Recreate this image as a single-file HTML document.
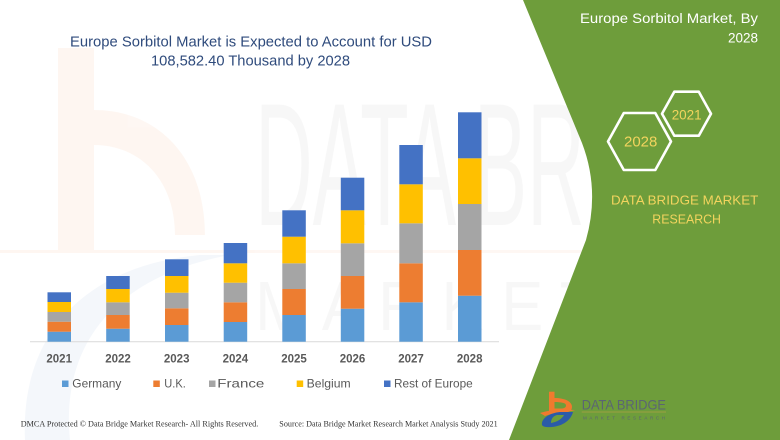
<!DOCTYPE html>
<html>
<head>
<meta charset="utf-8">
<style>
html,body{margin:0;padding:0;background:#fff;}
svg{display:block;}
</style>
</head>
<body>
<svg width="780" height="440" viewBox="0 0 780 440" xmlns="http://www.w3.org/2000/svg">
  <rect x="0" y="0" width="780" height="440" fill="#ffffff"/>
  <!-- faint watermark -->
  <g opacity="0.06">
    <rect x="58" y="48" width="36" height="205" fill="#F07A2E"/>
    <path d="M94,110 C160,110 205,160 205,235 L175,235 C175,180 140,145 94,145 Z" fill="#F07A2E"/>
    <path d="M25,440 C20,330 90,265 200,255 L230,255 C120,275 60,340 70,440 Z" fill="#3C6FB6"/>
    <rect x="0" y="250" width="780" height="3" fill="#F07A2E"/>
  </g>
  <g opacity="0.04" font-family="Liberation Sans, sans-serif" fill="#555">
    <text x="255" y="225" font-size="175" textLength="525" lengthAdjust="spacingAndGlyphs">DATA BRIDGE</text>
    <text x="255" y="330" font-size="70" textLength="525" lengthAdjust="spacingAndGlyphs">M A R K E T R E S</text>
  </g>

  <!-- green panel -->
  <path d="M523,0 L582,143 Q600,190 586,240 L509,440 L780,440 L780,0 Z" fill="#6E9D3B"/>

  <!-- title -->
  <g font-family="Liberation Sans, sans-serif" fill="#2F4B7C" font-size="15">
    <text x="70" y="46.5" textLength="362" lengthAdjust="spacingAndGlyphs">Europe Sorbitol Market is Expected to Account for USD</text>
    <text x="151" y="65.3" textLength="199" lengthAdjust="spacingAndGlyphs">108,582.40 Thousand by 2028</text>
  </g>

  <!-- axis line -->
  <line x1="30" y1="341.7" x2="499" y2="341.7" stroke="#D9D9D9" stroke-width="1"/>

  <!-- bars -->
  <g>
    <rect x="47.5" y="331.7" width="23.5" height="10" fill="#5B9BD5"/>
    <rect x="47.5" y="321.7" width="23.5" height="10" fill="#ED7D31"/>
    <rect x="47.5" y="312" width="23.5" height="9.7" fill="#A5A5A5"/>
    <rect x="47.5" y="302" width="23.5" height="10" fill="#FFC000"/>
    <rect x="47.5" y="292.3" width="23.5" height="9.7" fill="#4472C4"/>
    <rect x="106.2" y="328.7" width="23.5" height="13" fill="#5B9BD5"/>
    <rect x="106.2" y="315" width="23.5" height="13.7" fill="#ED7D31"/>
    <rect x="106.2" y="302.3" width="23.5" height="12.7" fill="#A5A5A5"/>
    <rect x="106.2" y="289" width="23.5" height="13.3" fill="#FFC000"/>
    <rect x="106.2" y="276" width="23.5" height="13" fill="#4472C4"/>
    <rect x="165" y="325" width="23.5" height="16.7" fill="#5B9BD5"/>
    <rect x="165" y="308.3" width="23.5" height="16.7" fill="#ED7D31"/>
    <rect x="165" y="292.7" width="23.5" height="15.6" fill="#A5A5A5"/>
    <rect x="165" y="276" width="23.5" height="16.7" fill="#FFC000"/>
    <rect x="165" y="259.3" width="23.5" height="16.7" fill="#4472C4"/>
    <rect x="223.7" y="322" width="23.5" height="19.7" fill="#5B9BD5"/>
    <rect x="223.7" y="302.3" width="23.5" height="19.7" fill="#ED7D31"/>
    <rect x="223.7" y="282.7" width="23.5" height="19.6" fill="#A5A5A5"/>
    <rect x="223.7" y="263.3" width="23.5" height="19.4" fill="#FFC000"/>
    <rect x="223.7" y="243" width="23.5" height="20.3" fill="#4472C4"/>
    <rect x="282.3" y="315" width="23.5" height="26.7" fill="#5B9BD5"/>
    <rect x="282.3" y="289" width="23.5" height="26" fill="#ED7D31"/>
    <rect x="282.3" y="263.3" width="23.5" height="25.7" fill="#A5A5A5"/>
    <rect x="282.3" y="236.7" width="23.5" height="26.6" fill="#FFC000"/>
    <rect x="282.3" y="210.3" width="23.5" height="26.4" fill="#4472C4"/>
    <rect x="340.8" y="308.7" width="23.5" height="33" fill="#5B9BD5"/>
    <rect x="340.8" y="276" width="23.5" height="32.7" fill="#ED7D31"/>
    <rect x="340.8" y="243.3" width="23.5" height="32.7" fill="#A5A5A5"/>
    <rect x="340.8" y="210.3" width="23.5" height="33" fill="#FFC000"/>
    <rect x="340.8" y="177.7" width="23.5" height="32.6" fill="#4472C4"/>
    <rect x="399.3" y="302.3" width="23.5" height="39.4" fill="#5B9BD5"/>
    <rect x="399.3" y="263.3" width="23.5" height="39" fill="#ED7D31"/>
    <rect x="399.3" y="223.3" width="23.5" height="40" fill="#A5A5A5"/>
    <rect x="399.3" y="184.3" width="23.5" height="39" fill="#FFC000"/>
    <rect x="399.3" y="145" width="23.5" height="39.3" fill="#4472C4"/>
    <rect x="458" y="295.7" width="23.5" height="46" fill="#5B9BD5"/>
    <rect x="458" y="250" width="23.5" height="45.7" fill="#ED7D31"/>
    <rect x="458" y="204" width="23.5" height="46" fill="#A5A5A5"/>
    <rect x="458" y="158.3" width="23.5" height="45.7" fill="#FFC000"/>
    <rect x="458" y="112.3" width="23.5" height="46" fill="#4472C4"/>
  </g>

  <!-- year labels -->
  <g font-family="Liberation Sans, sans-serif" font-weight="bold" font-size="11.5" fill="#595959" text-anchor="middle">
    <text x="59.2" y="362.5">2021</text>
    <text x="118" y="362.5">2022</text>
    <text x="176.7" y="362.5">2023</text>
    <text x="235.4" y="362.5">2024</text>
    <text x="294" y="362.5">2025</text>
    <text x="352.5" y="362.5">2026</text>
    <text x="411" y="362.5">2027</text>
    <text x="469.7" y="362.5">2028</text>
  </g>

  <!-- legend -->
  <g font-family="Liberation Sans, sans-serif" font-size="12" fill="#595959">
    <rect x="62" y="380.5" width="6.5" height="6.5" fill="#5B9BD5"/>
    <text x="72.3" y="387.7" textLength="49" lengthAdjust="spacingAndGlyphs">Germany</text>
    <rect x="153.3" y="380.5" width="6.5" height="6.5" fill="#ED7D31"/>
    <text x="164.3" y="387.7" textLength="21.5" lengthAdjust="spacingAndGlyphs">U.K.</text>
    <rect x="209" y="380.5" width="6.5" height="6.5" fill="#A5A5A5"/>
    <text x="217.3" y="387.7" textLength="47" lengthAdjust="spacingAndGlyphs">France</text>
    <rect x="296.7" y="380.5" width="6.5" height="6.5" fill="#FFC000"/>
    <text x="306.7" y="387.7" textLength="44" lengthAdjust="spacingAndGlyphs">Belgium</text>
    <rect x="384" y="380.5" width="6.5" height="6.5" fill="#4472C4"/>
    <text x="394" y="387.7" textLength="78.7" lengthAdjust="spacingAndGlyphs">Rest of Europe</text>
  </g>

  <!-- footer -->
  <g font-family="Liberation Serif, serif" font-size="8.5" fill="#333">
    <text x="20.7" y="426.5" textLength="237.6" lengthAdjust="spacingAndGlyphs">DMCA Protected © Data Bridge Market Research- All Rights Reserved.</text>
    <text x="279.3" y="426.5" textLength="218.4" lengthAdjust="spacingAndGlyphs">Source: Data Bridge Market Research Market Analysis Study 2021</text>
  </g>

  <!-- right panel text -->
  <g font-family="Liberation Sans, sans-serif" fill="#ffffff" font-size="13.5">
    <text x="580" y="23" textLength="178" lengthAdjust="spacingAndGlyphs">Europe Sorbitol Market, By</text>
    <text x="758" y="42.6" text-anchor="end">2028</text>
  </g>

  <!-- hexagons -->
  <g fill="none" stroke="#ffffff" stroke-width="2.6" stroke-linejoin="round">
    <polygon points="662,113.7 674.3,91.7 698.8,91.7 711,113.7 698.8,135.7 674.3,135.7"/>
    <polygon points="608,141.5 623.8,113 655.3,113 671,141.5 655.3,170 623.8,170"/>
  </g>
  <g font-family="Liberation Sans, sans-serif" fill="#F2D45E">
    <text x="671.7" y="119.3" font-size="14" textLength="30" lengthAdjust="spacingAndGlyphs">2021</text>
    <text x="624" y="146.7" font-size="14.5" textLength="33.3" lengthAdjust="spacingAndGlyphs">2028</text>
    <text x="611" y="204.3" font-size="13" textLength="147.3" lengthAdjust="spacingAndGlyphs">DATA BRIDGE MARKET</text>
    <text x="652.3" y="223.3" font-size="13" textLength="68.7" lengthAdjust="spacingAndGlyphs">RESEARCH</text>
  </g>

  <!-- bottom logo -->
  <g>
    <rect x="549" y="391.7" width="5.5" height="21" fill="#F07A2E"/>
    <path d="M554,398 C566,398 572,402 572,407 C572,411 568,413 562,413 L554,413 L554,408.5 L561,408.5 C564,408.5 566,407.5 566,405.5 C566,403 562,402 554,402 Z" fill="#F07A2E"/>
    <path d="M540,413 C552,409 566,409 575,410 C570,412 556,412 545,416 Z" fill="#F07A2E"/>
    <path d="M542,425 C541,418 550,413 560,412 L573,412 C571,420 563,426 552,427 C547,427.5 543,427 542,425 Z M551,423 C557,422 562,419 564,415 L557,415 C553,416 551,419 551,423 Z" fill="#2B5BA8"/>
    <text x="581.7" y="409.3" font-family="Liberation Sans, sans-serif" font-size="14" fill="#5B6573" textLength="84.3" lengthAdjust="spacingAndGlyphs">DATA BRIDGE</text>
    <line x1="581.7" y1="412" x2="666" y2="412" stroke="#C9A24A" stroke-width="0.6"/>
    <text x="583" y="419.5" font-family="Liberation Sans, sans-serif" font-size="4.5" fill="#5B6573" textLength="82" lengthAdjust="spacing">MARKET RESEARCH</text>
  </g>
</svg>
</body>
</html>
